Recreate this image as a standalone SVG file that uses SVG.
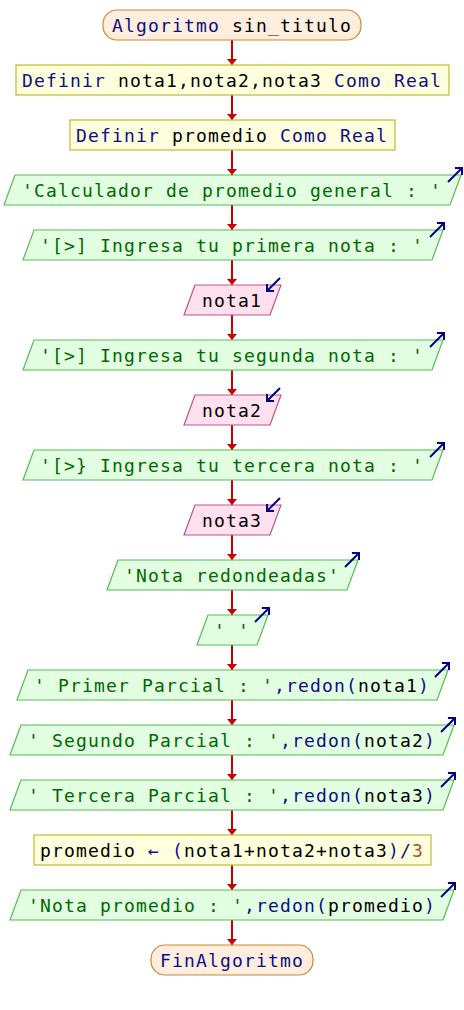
<svg xmlns="http://www.w3.org/2000/svg" width="464" height="1010" viewBox="0 0 464 1010">
<style>
text{font-family:"DejaVu Sans Mono","Liberation Mono",monospace;font-size:18px;letter-spacing:1.16px;fill:#000}
.k{fill:#0e0e88}.s{fill:#006800}.n{fill:#b04e2a}
.term{fill:#ffeedd;stroke:#cc8833;stroke-width:1.2}
.proc{fill:#ffffdd;stroke:#bbbb33;stroke-width:1.2}
.out{fill:#e2ffe2;stroke:#55bb55;stroke-width:1.2}
.in{fill:#ffe0ee;stroke:#bb5588;stroke-width:1.2}
.io{fill:none;stroke:#000088;stroke-width:2}
.c{stroke:#cc0000;stroke-width:2;fill:none}
</style>
<defs>
<marker id="ah" viewBox="0 -5 6 10" refX="6" refY="0" markerWidth="6" markerHeight="10" markerUnits="userSpaceOnUse" orient="auto">
<path d="M0,-5 L6,0 L0,5 z" fill="#cc0000"/>
</marker>
<marker id="ch" viewBox="-6 -6 7 12" refX="0" refY="0" markerWidth="7" markerHeight="12" markerUnits="userSpaceOnUse" orient="auto" overflow="visible">
<path d="M-5,-5 L0,0 L-5,5" fill="none" stroke="#000088" stroke-width="2"/>
</marker>
</defs>
<g id="connectors">
<path class="c" marker-end="url(#ah)" d="M232,40 V65"/>
<path class="c" marker-end="url(#ah)" d="M232,95 V120"/>
<path class="c" marker-end="url(#ah)" d="M232,150 V175"/>
<path class="c" marker-end="url(#ah)" d="M232,205 V230"/>
<path class="c" marker-end="url(#ah)" d="M232,260 V285"/>
<path class="c" marker-end="url(#ah)" d="M232,315 V340"/>
<path class="c" marker-end="url(#ah)" d="M232,370 V395"/>
<path class="c" marker-end="url(#ah)" d="M232,425 V450"/>
<path class="c" marker-end="url(#ah)" d="M232,480 V505"/>
<path class="c" marker-end="url(#ah)" d="M232,535 V560"/>
<path class="c" marker-end="url(#ah)" d="M232,590 V615"/>
<path class="c" marker-end="url(#ah)" d="M232,645 V670"/>
<path class="c" marker-end="url(#ah)" d="M232,700 V725"/>
<path class="c" marker-end="url(#ah)" d="M232,755 V780"/>
<path class="c" marker-end="url(#ah)" d="M232,810 V835"/>
<path class="c" marker-end="url(#ah)" d="M232,865 V890"/>
<path class="c" marker-end="url(#ah)" d="M232,920 V945"/>
</g>
<g id="start">
<rect class="term" x="103" y="10" width="258" height="30" rx="14"/>
<text x="112" y="32"><tspan class="k">Algoritmo</tspan> sin_titulo</text>
</g>
<g id="def1">
<rect class="proc" x="16" y="65" width="433" height="30"/>
<text x="22" y="87"><tspan class="k">Definir</tspan> nota1,nota2,nota3 <tspan class="k">Como Real</tspan></text>
</g>
<g id="def2">
<rect class="proc" x="70" y="120" width="325" height="30"/>
<text x="76" y="142"><tspan class="k">Definir</tspan> promedio <tspan class="k">Como Real</tspan></text>
</g>
<g id="out1">
<polygon class="out" points="15,175 461,175 450,205 4,205"/>
<path class="io" marker-end="url(#ch)" d="M448,182 L462,168"/>
<text x="22" y="197" class="s">'Calculador de promedio general : '</text>
</g>
<g id="out2">
<polygon class="out" points="34,230 443,230 432,260 23,260"/>
<path class="io" marker-end="url(#ch)" d="M430,237 L444,223"/>
<text x="40" y="252" class="s">'[&gt;] Ingresa tu primera nota : '</text>
</g>
<g id="in1">
<polygon class="in" points="195,285 281,285 270,315 184,315"/>
<path class="io" marker-end="url(#ch)" d="M280,278 L267,291"/>
<text x="202" y="307">nota1</text>
</g>
<g id="out3">
<polygon class="out" points="34,340 443,340 432,370 23,370"/>
<path class="io" marker-end="url(#ch)" d="M430,347 L444,333"/>
<text x="40" y="362" class="s">'[&gt;] Ingresa tu segunda nota : '</text>
</g>
<g id="in2">
<polygon class="in" points="195,395 281,395 270,425 184,425"/>
<path class="io" marker-end="url(#ch)" d="M280,388 L267,401"/>
<text x="202" y="417">nota2</text>
</g>
<g id="out4">
<polygon class="out" points="34,450 443,450 432,480 23,480"/>
<path class="io" marker-end="url(#ch)" d="M430,457 L444,443"/>
<text x="40" y="472" class="s">'[&gt;} Ingresa tu tercera nota : '</text>
</g>
<g id="in3">
<polygon class="in" points="195,505 281,505 270,535 184,535"/>
<path class="io" marker-end="url(#ch)" d="M280,498 L267,511"/>
<text x="202" y="527">nota3</text>
</g>
<g id="out5">
<polygon class="out" points="118,560 358,560 347,590 107,590"/>
<path class="io" marker-end="url(#ch)" d="M345,567 L359,553"/>
<text x="124" y="582" class="s">'Nota redondeadas'</text>
</g>
<g id="out6">
<polygon class="out" points="208,615 268,615 257,645 197,645"/>
<path class="io" marker-end="url(#ch)" d="M255,622 L269,608"/>
<text x="214" y="637" class="s">' '</text>
</g>
<g id="out7">
<polygon class="out" points="28,670 448,670 437,700 17,700"/>
<path class="io" marker-end="url(#ch)" d="M435,677 L449,663"/>
<text x="34" y="692"><tspan class="s">' Primer Parcial : '</tspan><tspan class="k">,redon(</tspan>nota1<tspan class="k">)</tspan></text>
</g>
<g id="out8">
<polygon class="out" points="21,725 454,725 443,755 10,755"/>
<path class="io" marker-end="url(#ch)" d="M441,732 L455,718"/>
<text x="28" y="747"><tspan class="s">' Segundo Parcial : '</tspan><tspan class="k">,redon(</tspan>nota2<tspan class="k">)</tspan></text>
</g>
<g id="out9">
<polygon class="out" points="21,780 454,780 443,810 10,810"/>
<path class="io" marker-end="url(#ch)" d="M441,787 L455,773"/>
<text x="28" y="802"><tspan class="s">' Tercera Parcial : '</tspan><tspan class="k">,redon(</tspan>nota3<tspan class="k">)</tspan></text>
</g>
<g id="assign">
<rect class="proc" x="34" y="835" width="397" height="30"/>
<text x="40" y="857">promedio <tspan class="k">← (</tspan>nota1+nota2+nota3<tspan class="k">)/</tspan><tspan class="n">3</tspan></text>
</g>
<g id="out10">
<polygon class="out" points="21,890 454,890 443,920 10,920"/>
<path class="io" marker-end="url(#ch)" d="M441,897 L455,883"/>
<text x="28" y="912"><tspan class="s">'Nota promedio : '</tspan><tspan class="k">,redon(</tspan>promedio<tspan class="k">)</tspan></text>
</g>
<g id="end">
<rect class="term" x="151" y="945" width="162" height="30" rx="14"/>
<text x="160" y="967" class="k">FinAlgoritmo</text>
</g>
</svg>
